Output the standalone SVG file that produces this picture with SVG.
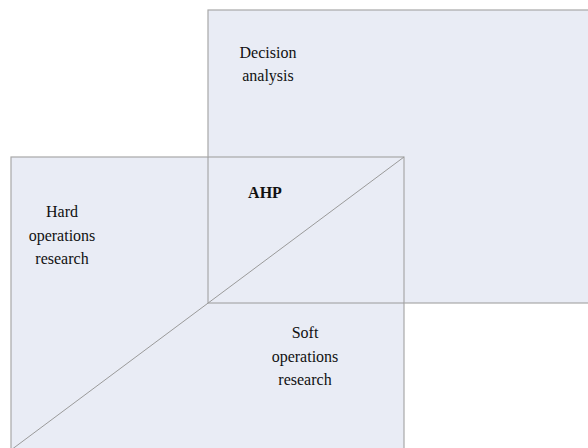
<svg xmlns="http://www.w3.org/2000/svg" width="588" height="448" viewBox="0 0 588 448">
<style>
.box{fill:#e9ecf5;stroke:#a8a8a8;stroke-width:1.2}
.ln{fill:none;stroke:#9a9a9a;stroke-width:1}
text{font-family:"Liberation Serif","Times New Roman",serif;font-size:16px;fill:#111;text-anchor:middle}
.b{font-weight:bold}
</style>
<rect width="588" height="448" fill="#ffffff"/>
<g id="decision-analysis">
<rect class="box" x="208" y="10" width="390" height="293"/>
<text x="268" y="58">Decision</text>
<text x="268" y="81">analysis</text>
</g>
<g id="operations-research">
<rect class="box" x="11" y="157" width="393" height="300"/>
</g>
<g id="connectors">
<line class="ln" x1="208" y1="157" x2="208" y2="303"/>
<line class="ln" x1="208" y1="303" x2="404" y2="303"/>
<line class="ln" x1="404" y1="157" x2="11" y2="450"/>
</g>
<g id="hard-or">
<text x="62" y="217">Hard</text>
<text x="62" y="241">operations</text>
<text x="62" y="264">research</text>
</g>
<g id="ahp">
<text class="b" x="265" y="198">AHP</text>
</g>
<g id="soft-or">
<text x="305" y="338">Soft</text>
<text x="305" y="362">operations</text>
<text x="305" y="385">research</text>
</g>
</svg>
